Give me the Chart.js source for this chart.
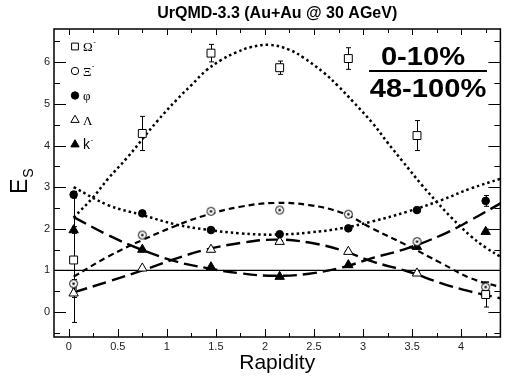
<!DOCTYPE html>
<html>
<head>
<meta charset="utf-8">
<script src="https://cdn.jsdelivr.net/npm/chart.js@4/dist/chart.umd.min.js"></script>
<style>
  html, body { margin: 0; padding: 0; background: #fff; }
  canvas { display: block; }
</style>
</head>
<body>
<canvas id="esChart" width="507" height="378"></canvas>
<script>
// Messpunkte (Rapiditaet)
const rapidity = [0.05, 0.75, 1.45, 2.15, 2.85, 3.55, 4.25];
const omegaVal = [1.25, 4.29, 6.22, 5.87, 6.09, 4.24, 0.42];
const omegaErr = [1.5, 0.41, 0.21, 0.16, 0.26, 0.36, 0.3];
const xiVal = [0.68, 1.85, 2.42, 2.45, 2.35, 1.69, 0.6];
const xiErr = [0.1, 0.04, 0.04, 0.04, 0.05, 0.07, 0.12];
const phiVal = [2.82, 2.37, 1.97, 1.87, 2.01, 2.45, 2.67];
const phiErr = [0.08, 0.03, 0.03, 0.03, 0.03, 0.04, 0.13];
const lambdaVal = [0.45, 1.05, 1.5, 1.69, 1.45, 0.93, 0.45];
const lambdaErr = [0.1, 0.03, 0.03, 0.03, 0.03, 0.04, 0.08];
const kaonVal = [1.97, 1.5, 1.08, 0.85, 1.13, 1.57, 1.93];
const kaonErr = [0.08, 0.02, 0.02, 0.02, 0.02, 0.03, 0.06];

// Fit-Kurven
const omegaFitX = [0.05, 0.25, 0.4, 0.6, 0.75, 0.9, 1.1, 1.25, 1.4, 1.55, 1.7, 1.85, 2.05, 2.25, 2.4, 2.6, 2.75, 2.9, 3.1, 3.25, 3.4, 3.6, 3.75, 3.9, 4.1, 4.25, 4.4];
const omegaFit = [2.27, 2.76, 3.2, 3.72, 4.15, 4.58, 5.1, 5.45, 5.8, 6.05, 6.23, 6.36, 6.42, 6.3, 6.1, 5.75, 5.42, 5.05, 4.53, 4.07, 3.63, 3.05, 2.65, 2.27, 1.82, 1.55, 1.33];
const fitX = [0.05, 0.4, 0.75, 1.1, 1.4, 1.75, 2.1, 2.45, 2.8, 3.1, 3.45, 3.8, 4.1, 4.4];
const xiFit = [0.85, 1.33, 1.73, 2.08, 2.33, 2.53, 2.62, 2.57, 2.37, 2.0, 1.6, 1.17, 0.81, 0.6];
const phiFit = [3.0, 2.57, 2.33, 2.1, 1.98, 1.89, 1.86, 1.91, 2.02, 2.18, 2.41, 2.69, 2.97, 3.2];
const lambdaFit = [0.47, 0.73, 1.0, 1.29, 1.5, 1.66, 1.74, 1.67, 1.47, 1.21, 0.98, 0.69, 0.49, 0.33];
const kaonFit = [2.28, 1.85, 1.49, 1.21, 1.06, 0.93, 0.87, 0.92, 1.08, 1.3, 1.53, 1.85, 2.21, 2.61];

// Referenzlinie E_S = 1
const refX = [-0.15, 4.4];
const refY = [1, 1];

// Achsen
const xMin = -0.15, xMax = 4.4;
const yMin = -0.6, yMax = 6.8;
const xTicks = [0, 0.5, 1, 1.5, 2, 2.5, 3, 3.5, 4];
const xMinor = [0.25, 0.75, 1.25, 1.75, 2.25, 2.75, 3.25, 3.75, 4.25];
const yTicks = [0, 1, 2, 3, 4, 5, 6];
const yMinor = [-0.5, 0.5, 1.5, 2.5, 3.5, 4.5, 5.5, 6.5];

const legendLabels = ['Ω', 'Ξ', 'φ', 'Λ', 'k'];
const legendSup = ['-', '-', '', '', '-'];
const titleText = 'UrQMD-3.3 (Au+Au @ 30 AGeV)';
const centralText = '0-10%';
const peripheralText = '48-100%';

const SANS = '"Liberation Sans", Arial, Helvetica, sans-serif';
const SERIF = '"Liberation Serif", "DejaVu Serif", serif';

// Marker fuer Xi: offener Kreis mit Punkt
function makeXiMarker() {
    const c = document.createElement('canvas');
    c.width = 11; c.height = 11;
    const g = c.getContext('2d');
    g.beginPath();
    g.arc(5.5, 5.5, 4, 0, Math.PI * 2);
    g.fillStyle = '#fff';
    g.fill();
    g.lineWidth = 1;
    g.strokeStyle = '#000';
    g.stroke();
    g.beginPath();
    g.arc(5.5, 5.5, 1.3, 0, Math.PI * 2);
    g.fillStyle = '#000';
    g.fill();
    return c;
}

const pts = vals => rapidity.map((x, i) => ({ x: x, y: vals[i] }));
const curve = (xs, ys) => xs.map((x, i) => ({ x: x, y: ys[i] }));

function fitSet(data, dash, width) {
    return {
        data: data,
        showLine: true,
        borderColor: '#000',
        borderWidth: width,
        borderDash: dash,
        pointRadius: 0,
        tension: 0.4,
        fill: false,
        order: 3
    };
}

function markerSet(data, errs, style, radius, bg) {
    return {
        data: data,
        errs: errs,
        showLine: false,
        pointStyle: style,
        pointRadius: radius,
        pointBackgroundColor: bg,
        pointBorderColor: '#000',
        pointBorderWidth: 1,
        order: 1
    };
}

// Fehlerbalken
const errorBars = {
    id: 'errorBars',
    beforeDatasetsDraw(chart) {
        const ctx = chart.ctx;
        const xs = chart.scales.x, ys = chart.scales.y;
        ctx.save();
        ctx.strokeStyle = '#000';
        ctx.lineWidth = 1;
        chart.data.datasets.forEach(ds => {
            if (!ds.errs) return;
            ds.data.forEach((p, i) => {
                const e = ds.errs[i];
                if (!e) return;
                const px = Math.round(xs.getPixelForValue(p.x)) + 0.5;
                const y1 = ys.getPixelForValue(p.y + e);
                const y2 = ys.getPixelForValue(p.y - e);
                ctx.beginPath();
                ctx.moveTo(px, y1); ctx.lineTo(px, y2);
                ctx.moveTo(px - 2.5, y1); ctx.lineTo(px + 2.5, y1);
                ctx.moveTo(px - 2.5, y2); ctx.lineTo(px + 2.5, y2);
                ctx.stroke();
            });
        });
        ctx.restore();
    }
};

// Rahmen, Ticks nach innen, Texte, Legende
const decor = {
    id: 'decor',
    afterDraw(chart) {
        const ctx = chart.ctx;
        const ca = chart.chartArea;
        const xs = chart.scales.x, ys = chart.scales.y;
        ctx.save();
        ctx.strokeStyle = '#000';
        ctx.lineWidth = 1.5;
        ctx.strokeRect(ca.left, ca.top, ca.right - ca.left, ca.bottom - ca.top);

        ctx.lineWidth = 1;
        ctx.beginPath();
        const xTick = (v, lb, lt) => {
            const px = Math.round(xs.getPixelForValue(v)) + 0.5;
            ctx.moveTo(px, ca.bottom); ctx.lineTo(px, ca.bottom - lb);
            ctx.moveTo(px, ca.top); ctx.lineTo(px, ca.top + lt);
        };
        const yTick = (v, l) => {
            const py = Math.round(ys.getPixelForValue(v)) + 0.5;
            ctx.moveTo(ca.left, py); ctx.lineTo(ca.left + l, py);
            ctx.moveTo(ca.right, py); ctx.lineTo(ca.right - l, py);
        };
        xTicks.forEach(v => xTick(v, 8, 6));
        xMinor.forEach(v => xTick(v, 4, 4));
        yTicks.forEach(v => yTick(v, 12));
        yMinor.forEach(v => yTick(v, 6));
        ctx.stroke();

        ctx.fillStyle = '#000';
        // Titel
        ctx.font = 'bold 16px ' + SANS;
        ctx.textAlign = 'center';
        ctx.textBaseline = 'alphabetic';
        ctx.fillText(titleText, (ca.left + ca.right) / 2, 18);

        // x-Achsentitel
        ctx.font = '21px ' + SANS;
        ctx.fillText('Rapidity', (ca.left + ca.right) / 2, 369);

        // y-Achsentitel E_S
        ctx.save();
        ctx.translate(27, 194);
        ctx.rotate(-Math.PI / 2);
        ctx.textAlign = 'left';
        ctx.font = '23px ' + SANS;
        ctx.fillText('E', 0, 0);
        const ew = ctx.measureText('E').width;
        ctx.font = '14px ' + SANS;
        ctx.fillText('S', ew + 1, 6);
        ctx.restore();

        // Zentralitaet als Bruch
        const stretched = (t, cx, by) => {
            ctx.save();
            ctx.translate(cx, by);
            ctx.scale(1.12, 1);
            ctx.textAlign = 'center';
            ctx.fillText(t, 0, 0);
            ctx.restore();
        };
        ctx.font = 'bold 26px ' + SANS;
        stretched(centralText, 423, 65);
        stretched(peripheralText, 428, 97);
        ctx.fillRect(369, 70, 118, 2);

        // Legende
        const lx = 75;
        const rows = [46.5, 71, 95.5, 120, 144.5];
        const legStyles = [
            { pointStyle: 'rect', radius: 4.8, fill: '#fff' },
            { pointStyle: 'circle', radius: 3.7, fill: '#fff' },
            { pointStyle: 'circle', radius: 3.7, fill: '#000' },
            { pointStyle: 'triangle', radius: 4.8, fill: '#fff' },
            { pointStyle: 'triangle', radius: 4.8, fill: '#000' }
        ];
        ctx.textAlign = 'left';
        legStyles.forEach((s, i) => {
            ctx.fillStyle = s.fill;
            ctx.strokeStyle = '#000';
            ctx.lineWidth = 1;
            Chart.helpers.drawPoint(ctx, { pointStyle: s.pointStyle, radius: s.radius, borderWidth: 1, rotation: 0 }, lx, rows[i]);
            ctx.fillStyle = '#000';
            ctx.font = (i === 4 ? '14px ' + SANS : '13px ' + SERIF);
            const by = rows[i] + 4.6;
            ctx.fillText(legendLabels[i], 83, by);
            const w = ctx.measureText(legendLabels[i]).width;
            if (legendSup[i]) {
                ctx.font = '8px ' + SANS;
                ctx.fillText(legendSup[i], 83 + w + 0.5, by - 7.5);
            }
        });
        ctx.restore();
    }
};

const ctx = document.getElementById('esChart').getContext('2d');
const esChart = new Chart(ctx, {
    type: 'scatter',
    data: {
        datasets: [
            fitSet(curve(refX, refY), [], 1.3),
            fitSet(curve(omegaFitX, omegaFit), [2.5, 3], 2.5),
            fitSet(curve(fitX, phiFit), [2.5, 3], 2.5),
            fitSet(curve(fitX, xiFit), [6, 4], 2.2),
            fitSet(curve(fitX, lambdaFit), [14, 6], 2.4),
            fitSet(curve(fitX, kaonFit), [14, 6], 2.4),
            markerSet(pts(omegaVal), omegaErr, 'rect', 5.6, '#fff'),
            markerSet(pts(xiVal), xiErr, makeXiMarker(), 5, '#fff'),
            markerSet(pts(phiVal), phiErr, 'circle', 3.8, '#000'),
            markerSet(pts(lambdaVal), lambdaErr, 'triangle', 5.4, '#fff'),
            markerSet(pts(kaonVal), kaonErr, 'triangle', 5.4, '#000')
        ]
    },
    options: {
        responsive: false,
        animation: false,
        devicePixelRatio: 1,
        events: [],
        layout: { padding: { top: 29, right: 1, left: 0, bottom: 0 } },
        plugins: {
            legend: { display: false },
            tooltip: { enabled: false },
            title: { display: false }
        },
        scales: {
            x: {
                type: 'linear',
                min: xMin,
                max: xMax,
                afterBuildTicks: scale => { scale.ticks = xTicks.map(v => ({ value: v })); },
                afterFit: scale => { scale.height = 41; },
                grid: { display: false, drawTicks: false },
                border: { display: false },
                ticks: {
                    padding: 3,
                    color: '#222',
                    font: { family: SANS, size: 11 },
                    callback: v => String(v)
                }
            },
            y: {
                type: 'linear',
                min: yMin,
                max: yMax,
                afterBuildTicks: scale => { scale.ticks = yTicks.map(v => ({ value: v })); },
                afterFit: scale => { scale.width = 54; },
                grid: { display: false, drawTicks: false },
                border: { display: false },
                ticks: {
                    padding: 4,
                    color: '#222',
                    font: { family: SANS, size: 11 },
                    callback: v => String(v)
                }
            }
        }
    },
    plugins: [errorBars, decor]
});
</script>
</body>
</html>
